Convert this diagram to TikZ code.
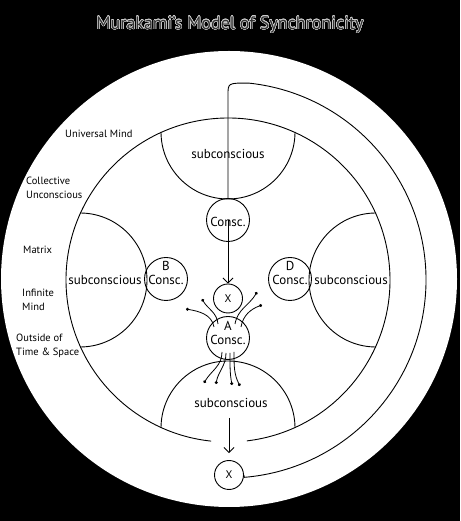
\documentclass[tikz,border=0pt]{standalone}
\usepackage{fontspec}
\setmainfont{PT Sans}
\usepackage{contour}
\contourlength{0.45pt}
\contournumber{24}
\usetikzlibrary{arrows.meta}
\begin{document}
\begin{tikzpicture}[x=1pt,y=1pt,
  ln/.style={line width=0.9pt},
  cons/.style={circle,draw,line width=0.9pt,minimum size=43pt,inner sep=0pt},
  xnode/.style={circle,draw,line width=0.9pt,minimum size=29pt,inner sep=0pt,font=\fontsize{11}{12}\selectfont},
  lab/.style={font=\fontsize{13}{13.5}\selectfont,align=center,inner sep=0pt},
  side/.style={font=\fontsize{10.5}{13.5}\selectfont,align=left,anchor=west,inner sep=0pt},
  arr/.style={line width=0.9pt,-{Straight Barb[length=5pt,width=10pt]}},
  fan/.style={line width=0.8pt,-{Circle[length=3pt]}}
]
\fill[black] (0,0) rectangle (460,521);
\useasboundingbox (0,0) rectangle (460,521);
\fill[white] (229,242) circle[radius=228];
% title
\node[font=\fontsize{18}{20}\selectfont] (title) at (230,496) {\contour{black!20}{\color{black!80}Murakami's Model of Synchronicity}};
% main circle with gap at bottom
\draw[ln] (228,241) ++(-83.3:162) arc[start angle=-83.3,end angle=264,radius=162];
% subconscious segments
\draw[ln] (161,389) arc[start angle=180,end angle=360,radius=67];
\draw[ln] (295,93) arc[start angle=0,end angle=180,radius=67];
\draw[ln] (80,308) arc[start angle=90,end angle=-90,radius=67];
\draw[ln] (376,174) arc[start angle=270,end angle=90,radius=67];
\node[lab] (sT) at (228,367) {subconscious};
\node[lab] (sL) at (105,241) {subconscious};
\node[lab] (sR) at (351,241) {subconscious};
\node[lab] (sBt) at (231,118) {subconscious};
% conscious circles
\node[cons] (cT) at (228,301) {};
\node[lab] (tT) at (228,299) {Consc.};
\node[cons] (cB) at (166,242) {};
\node[lab] (tB) at (166,248) {B\\Consc.};
\node[cons] (cD) at (290,242) {};
\node[lab] (tD) at (290,248) {D\\Consc.};
\node[cons] (cA) at (228,183) {};
\node[lab] (tA) at (228,188) {A\\Consc.};
\node[xnode] (xT) at (228,222.5) {X};
\node[xnode] (xB) at (229,46) {X};
% arrows
\draw[arr] (cT.center) -- (xT.north);
\coordinate (sb) at (229,103);
\draw[arr, shorten >=7pt] (sb) -- (xB.north);
% loop
\draw[ln] (cT.north) -- (228,426) .. controls (228,438) .. (248.7,437.9) arc[start angle=84,end angle=-85.3,radius=198] -- (xB.east);
% fans
\draw[fan] (214,194) to[out=100,in=-10] (186,212);
\draw[fan] (218,197) to[out=95,in=-60] (202,222);
\draw[fan] (235,197) to[out=80,in=-120] (257,229);
\draw[fan] (241,194) to[out=80,in=-160] (262,216);
\draw[fan] (222,169) to[out=-90,in=60] (204,138);
\draw[fan] (226,168) to[out=-90,in=80] (216,137);
\draw[fan] (230,168) to[out=-90,in=100] (232,136);
\draw[fan] (234,169) to[out=-90,in=117] (240,135);
% side labels
\node[side] (u1) at (65,387) {Universal Mind};
\node[side] (u2) at (26,333) {Collective\\Unconscious};
\node[side] (u3) at (23,271) {Matrix};
\node[side] (u4) at (22,221) {Infinite\\Mind};
\node[side] (u5) at (16,175) {Outside of\\Time \& Space};
\end{tikzpicture}
\end{document}
